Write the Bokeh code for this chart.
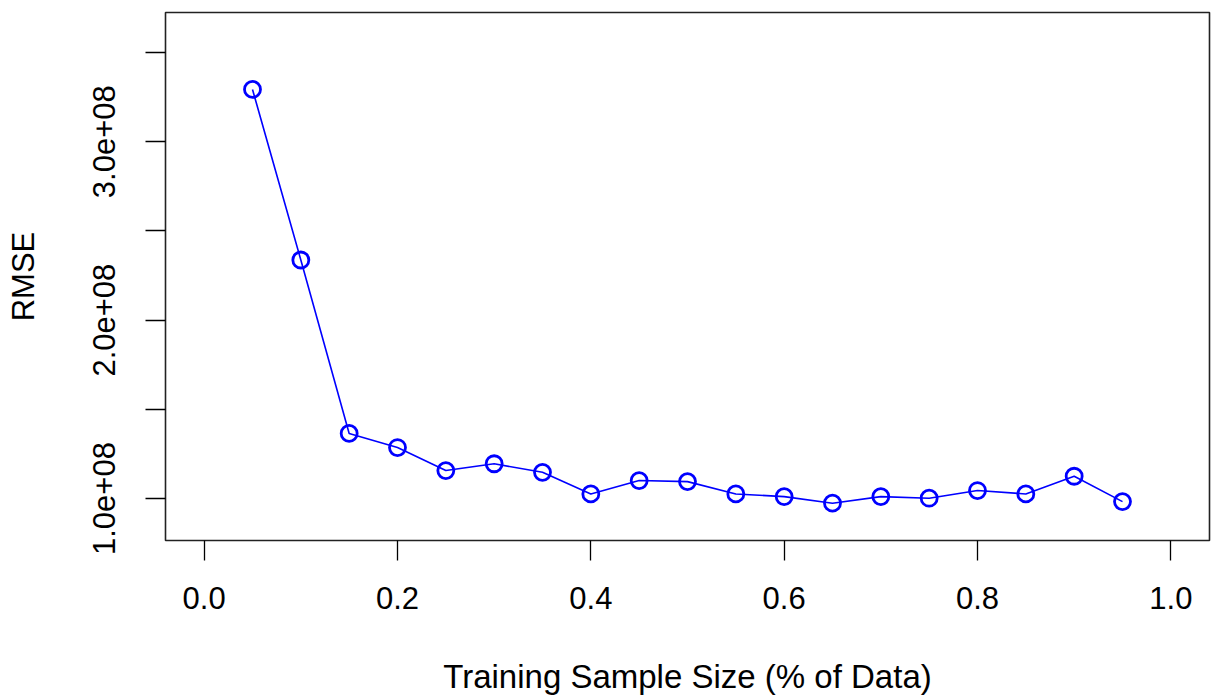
from bokeh.plotting import figure
from bokeh.models import FixedTicker, Range1d
from bokeh.embed import file_html
from bokeh.resources import INLINE

# Data
sample_frac = [0.05, 0.10, 0.15, 0.20, 0.25, 0.30, 0.35, 0.40, 0.45, 0.50,
               0.55, 0.60, 0.65, 0.70, 0.75, 0.80, 0.85, 0.90, 0.95]
rmse = [3.293e8, 2.337e8, 1.365e8, 1.286e8, 1.157e8, 1.195e8, 1.147e8, 1.026e8,
        1.101e8, 1.095e8, 1.026e8, 1.011e8, 0.974e8, 1.011e8, 1.002e8, 1.045e8,
        1.026e8, 1.125e8, 0.983e8]

x_ticks = [0.0, 0.2, 0.4, 0.6, 0.8, 1.0]
x_tick_labels = ["0.0", "0.2", "0.4", "0.6", "0.8", "1.0"]
y_ticks = [1.0e8, 1.5e8, 2.0e8, 2.5e8, 3.0e8, 3.5e8]
y_tick_labels = ["1.0e+08", "", "2.0e+08", "", "3.0e+08", ""]

FONT = "Liberation Sans"
FS_TICK = "31px"
FS_TITLE = "33px"

p = figure(width=1212, height=698, output_backend="svg", toolbar_location=None,
           x_range=Range1d(-0.04, 1.04), y_range=Range1d(0.765e8, 3.724e8),
           min_border_left=165, min_border_right=3, min_border_top=12,
           min_border_bottom=158)

p.background_fill_color = "white"
p.border_fill_color = "white"
p.outline_line_color = "#222222"
p.outline_line_width = 1.6
p.grid.visible = False

p.line(sample_frac, rmse, line_color="blue", line_width=1.6)
p.scatter(sample_frac, rmse, marker="circle", size=16, line_color="blue",
          line_width=2.8, fill_alpha=0)

# X axis
xa = p.xaxis[0]
xa.ticker = FixedTicker(ticks=x_ticks, minor_ticks=[])
xa.major_label_overrides = {t: l for t, l in zip(x_ticks, x_tick_labels)}
xa.major_tick_out = 20
xa.major_tick_in = 0
xa.major_tick_line_color = "black"
xa.major_tick_line_width = 1.3
xa.axis_line_color = None
xa.major_label_text_font = FONT
xa.major_label_text_font_size = FS_TICK
xa.major_label_text_color = "black"
xa.major_label_standoff = 26
xa.axis_label = "Training Sample Size (% of Data)"
xa.axis_label_text_font = FONT
xa.axis_label_text_font_size = FS_TITLE
xa.axis_label_text_font_style = "normal"
xa.axis_label_text_color = "black"
xa.axis_label_standoff = 46

# Y axis
ya = p.yaxis[0]
ya.ticker = FixedTicker(ticks=y_ticks, minor_ticks=[])
ya.major_label_overrides = {t: l for t, l in zip(y_ticks, y_tick_labels)}
ya.major_label_orientation = "vertical"
ya.major_tick_out = 20
ya.major_tick_in = 0
ya.major_tick_line_color = "black"
ya.major_tick_line_width = 1.3
ya.axis_line_color = None
ya.major_label_text_font = FONT
ya.major_label_text_font_size = FS_TICK
ya.major_label_text_color = "black"
ya.major_label_standoff = 30
ya.axis_label = "RMSE"
ya.axis_label_text_font = FONT
ya.axis_label_text_font_size = FS_TICK
ya.axis_label_text_font_style = "normal"
ya.axis_label_text_color = "black"
ya.axis_label_standoff = 50

open("out.html", "w").write(file_html(p, INLINE))
